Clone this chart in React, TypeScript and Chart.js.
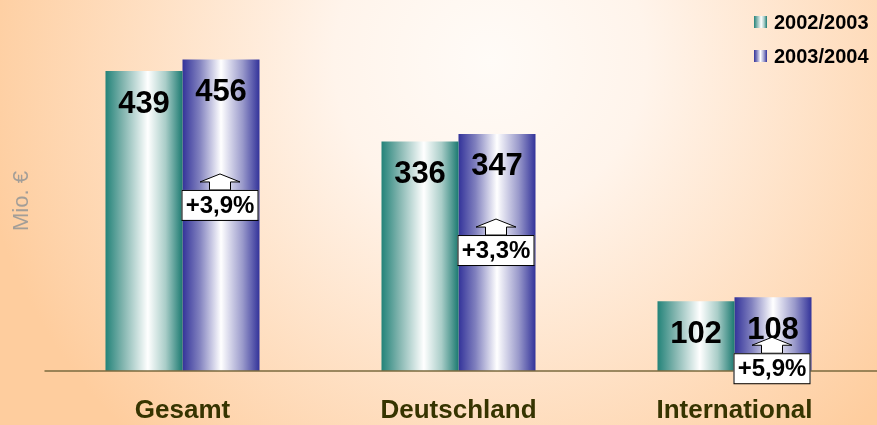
import React, { useEffect, useRef } from "react";
import { Chart, registerables } from "chart.js";

Chart.register(...registerables);

const categories = ["Gesamt", "Deutschland", "International"];
const seriesNames = ["2002/2003", "2003/2004"];
const values2002 = [439, 336, 102];
const values2003 = [456, 347, 108];
const growthLabels = ["+3,9%", "+3,3%", "+5,9%"];
const growthLevel = [265, 199, 26];
const axisTitle = "Mio. €";

const TEAL_STOPS: [number, string][] = [
  [0, "#238379"],
  [0.22, "#7fb3ad"],
  [0.55, "#ffffff"],
  [0.78, "#a9cdc8"],
  [1, "#1c7a71"],
];
const PURPLE_STOPS: [number, string][] = [
  [0, "#33339a"],
  [0.22, "#8080be"],
  [0.5, "#ffffff"],
  [0.78, "#9a9acb"],
  [1, "#33339a"],
];

const CAT_FRAC = 0.558;
const FONT = "Arial, 'Liberation Sans', sans-serif";

function makeGrad(ctx: CanvasRenderingContext2D, x0: number, x1: number, stops: [number, string][]) {
  const g = ctx.createLinearGradient(x0, 0, x1, 0);
  stops.forEach(([o, c]) => g.addColorStop(o, c));
  return g;
}

function barGradient(c: any, stops: [number, string][], dsIndex: number) {
  const chart = c.chart;
  const area = chart.chartArea;
  if (!area) return stops[0][1];
  const xs = chart.scales.x;
  const center = xs.getPixelForValue(c.dataIndex);
  const catW = area.width / categories.length;
  const bw = (catW * CAT_FRAC) / 2;
  const x0 = dsIndex === 0 ? center - bw : center;
  return makeGrad(chart.ctx, x0, x0 + bw, stops);
}

const decorPlugin = {
  id: "decor",
  beforeDraw(chart: any) {
    const { ctx, width, height } = chart;
    ctx.save();
    const g = ctx.createRadialGradient(490, 60, 0, 490, 60, 520);
    g.addColorStop(0, "#fffbf7");
    g.addColorStop(0.3, "#fff4eb");
    g.addColorStop(1, "#fecd9e");
    ctx.fillStyle = g;
    ctx.fillRect(0, 0, width, height);
    ctx.restore();
  },
  afterDatasetsDraw(chart: any) {
    const { ctx, chartArea, width } = chart;
    const ys = chart.scales.y;
    ctx.save();
    // baseline
    const by = ys.getPixelForValue(0);
    ctx.strokeStyle = "#7a6a3e";
    ctx.lineWidth = 1.5;
    ctx.beginPath();
    ctx.moveTo(chartArea.left, by);
    ctx.lineTo(width, by);
    ctx.stroke();

    // value labels
    ctx.fillStyle = "#000";
    ctx.font = `bold 31px ${FONT}`;
    ctx.textAlign = "center";
    ctx.textBaseline = "middle";
    [0, 1].forEach((di) => {
      const meta = chart.getDatasetMeta(di);
      const vals = di === 0 ? values2002 : values2003;
      meta.data.forEach((el: any, i: number) => {
        ctx.fillText(String(vals[i]), el.x, el.y + 33);
      });
    });

    // growth boxes with arrows
    const meta1 = chart.getDatasetMeta(1);
    meta1.data.forEach((el: any, i: number) => {
      const cx = el.x - 1;
      const bw = el.width;
      const top = ys.getPixelForValue(growthLevel[i]);
      const bh = 30;
      ctx.lineWidth = 1;
      ctx.strokeStyle = "#000";
      ctx.fillStyle = "#fff";
      const headH = 8;
      const shaftH = 8;
      const headW = 40;
      const shaftW = 21;
      ctx.beginPath();
      ctx.moveTo(cx - shaftW / 2, top);
      ctx.lineTo(cx - shaftW / 2, top - shaftH);
      ctx.lineTo(cx - headW / 2, top - shaftH);
      ctx.lineTo(cx, top - shaftH - headH);
      ctx.lineTo(cx + headW / 2, top - shaftH);
      ctx.lineTo(cx + shaftW / 2, top - shaftH);
      ctx.lineTo(cx + shaftW / 2, top);
      ctx.closePath();
      ctx.fill();
      ctx.stroke();
      ctx.fillRect(cx - bw / 2, top, bw, bh);
      ctx.strokeRect(cx - bw / 2 + 0.5, top + 0.5, bw - 1, bh);
      ctx.fillStyle = "#000";
      ctx.font = `bold 24px ${FONT}`;
      ctx.textAlign = "center";
      ctx.textBaseline = "middle";
      ctx.fillText(growthLabels[i], cx, top + bh / 2 + 1);
    });

    // axis title
    ctx.save();
    ctx.translate(22, 201);
    ctx.rotate(-Math.PI / 2);
    ctx.fillStyle = "#a39e98";
    ctx.font = `22px ${FONT}`;
    ctx.textAlign = "center";
    ctx.textBaseline = "middle";
    ctx.fillText(axisTitle, 0, 0);
    ctx.restore();

    // legend
    const stopsList = [TEAL_STOPS, PURPLE_STOPS];
    const rows = [22, 56];
    seriesNames.forEach((name, k) => {
      const y = rows[k];
      const sx = 754;
      ctx.fillStyle = makeGrad(ctx, sx, sx + 13, stopsList[k]);
      ctx.fillRect(sx, y - 6, 13, 12);
      ctx.fillStyle = "#000";
      ctx.font = `bold 20px ${FONT}`;
      ctx.textAlign = "left";
      ctx.textBaseline = "middle";
      ctx.fillText(name, 774, y + 1);
    });
    ctx.restore();
  },
};

export default function App() {
  const ref = useRef<HTMLCanvasElement | null>(null);
  useEffect(() => {
    document.body.style.margin = "0";
    if (!ref.current) return;
    const chart = new Chart(ref.current, {
      type: "bar",
      data: {
        labels: categories,
        datasets: [
          {
            label: seriesNames[0],
            data: values2002,
            backgroundColor: (c: any) => barGradient(c, TEAL_STOPS, 0),
            borderWidth: 0,
          },
          {
            label: seriesNames[1],
            data: values2003,
            backgroundColor: (c: any) => barGradient(c, PURPLE_STOPS, 1),
            borderWidth: 0,
          },
        ],
      },
      options: {
        responsive: false,
        animation: false,
        layout: { padding: { left: 44.5, right: 4.5, top: 0, bottom: 0 } },
        datasets: { bar: { barPercentage: 1, categoryPercentage: CAT_FRAC } },
        plugins: { legend: { display: false }, tooltip: { enabled: false } },
        scales: {
          x: {
            grid: { display: false, drawTicks: false },
            border: { display: false },
            ticks: {
              color: "#363400",
              font: { family: FONT, size: 26, weight: "bold" },
              padding: 24,
            },
            afterFit: (s: any) => {
              s.height = 54;
            },
          },
          y: {
            display: false,
            min: 0,
            max: 543,
          },
        },
      },
      plugins: [decorPlugin],
    });
    return () => chart.destroy();
  }, []);
  return (
    <div style={{ width: 877, height: 425 }}>
      <canvas ref={ref} width={877} height={425} />
    </div>
  );
}
